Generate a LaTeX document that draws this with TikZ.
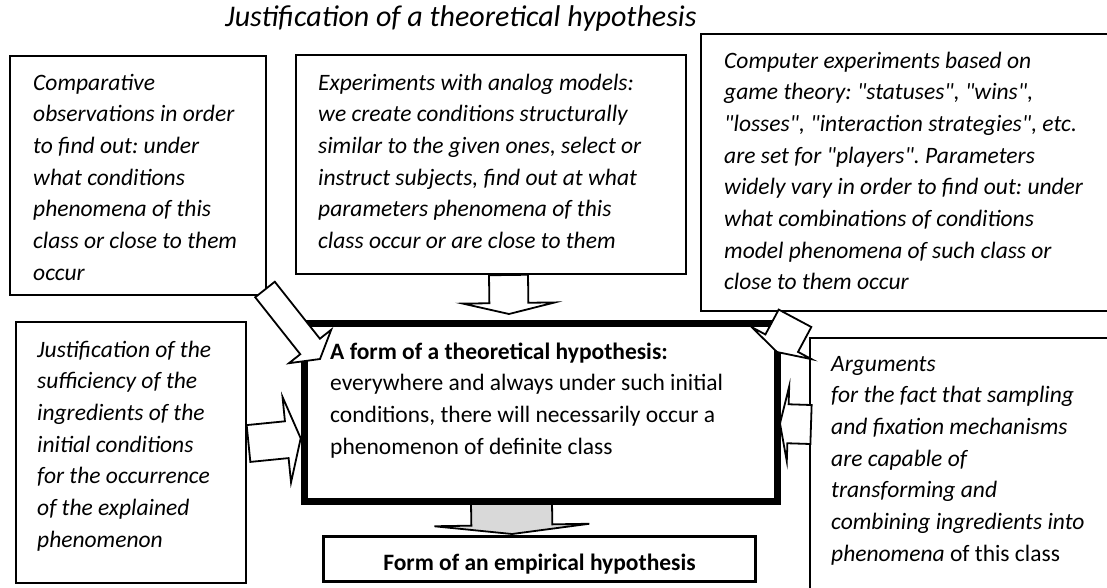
\documentclass[tikz,border=0pt]{standalone}
\usepackage{fontspec}
\setmainfont{Carlito}
\usetikzlibrary{calc}
\definecolor{shaftgray}{HTML}{D9D9D9}
\frenchspacing
\newcommand\sq{\textquotedbl}

% block arrow: [style]{tail}{tip}{half shaft width}{half head width}{head length}
\newcommand\blockarrow[6][]{%
  \draw[arrowbody,#1]
    ($(#2)!#4!90:(#3)$)
    -- ($($(#3)!#6!(#2)$)!#4!90:(#3)$)
    -- ($($(#3)!#6!(#2)$)!#5!90:(#3)$)
    -- (#3)
    -- ($($(#3)!#6!(#2)$)!#5!-90:(#3)$)
    -- ($($(#3)!#6!(#2)$)!#4!-90:(#3)$)
    -- ($(#2)!#4!-90:(#3)$)
    -- cycle;}

% multi-line texts are placed by the baseline of their last line
\tikzset{
  panel/.style={draw=black, line width=2pt, fill=white, inner sep=0pt, outer sep=0pt, anchor=north west},
  mainbox/.style={panel, line width=7pt},
  resultbox/.style={panel, line width=2.8pt},
  bodytext/.style={inner sep=0pt, anchor=base west, align=left,
    font=\fontsize{23.5}{31.7}\selectfont\itshape},
  uprighttext/.style={bodytext, font=\fontsize{23.5}{31.7}\selectfont},
  titletext/.style={inner sep=0pt, anchor=base west, font=\fontsize{30}{36}\selectfont\itshape},
  arrowbody/.style={draw=black, line width=1.8pt, fill=white, line join=miter},
}

\begin{document}
\begin{tikzpicture}[x=1pt, y=-1pt]
\clip (0,0) rectangle (1107,587);
\fill[white] (0,0) rectangle (1107,587);

% outer boxes
\node[panel, minimum width=256pt, minimum height=239pt] (comp) at (10,56) {};
\node[panel, minimum width=390pt, minimum height=219pt] (analog) at (296,55) {};
\node[panel, minimum width=440pt, minimum height=277pt] (game) at (701,34) {};
\node[panel, minimum width=230pt, minimum height=261pt] (suff) at (16,322) {};
\node[panel, minimum width=330pt, minimum height=280pt] (args) at (810,338) {};

% arrow end points
\coordinate (analogT) at (508.5,275);
\coordinate (analogH) at (509,314);
\coordinate (compT) at (265,289.5);
\coordinate (compH) at (320,359);
\coordinate (suffT) at (248.5,443.5);
\coordinate (suffH) at (300.7,438.3);
\coordinate (argsT) at (811,424.5);
\coordinate (argsH) at (780,423.5);
\coordinate (gameT) at (795,318.3);
\coordinate (gameH) at (777,352);
\coordinate (theoT) at (511.5,503);
\coordinate (theoH) at (512,534);

% arrows lying under the central box
\blockarrow{argsT}{argsH}{19.5pt}{37.5pt}{8pt}
\blockarrow[fill=shaftgray]{theoT}{theoH}{40.5pt}{77.5pt}{9pt}
\blockarrow{analogT}{analogH}{19.5pt}{46pt}{11pt}

% central and resulting boxes
\node[mainbox, minimum width=473pt, minimum height=178pt] (theo) at (304.5,323.5) {};
\node[resultbox, minimum width=432.2pt, minimum height=45.2pt] (emp) at (323.4,536.4) {};

% arrows lying over the central box
\blockarrow{compT}{compH}{12.5pt}{27pt}{16pt}
\blockarrow{suffT}{suffH}{18.5pt}{43pt}{14pt}
\blockarrow{gameT}{gameH}{18.5pt}{34pt}{10pt}

% texts
\node[titletext] (title) at (225,26) {Justification of a theoretical hypothesis};

\node[bodytext] (compText) at ($(comp.north west)+(23,224.2)$) {Comparative\\
observations in order\\
to find out: under\\
what conditions\\
phenomena of this\\
class or close to them\\
occur};

\node[bodytext] (analogText) at ($(analog.north west)+(22,193.5)$) {Experiments with analog models:\\
we create conditions structurally\\
similar to the given ones, select or\\
instruct subjects, find out at what\\
parameters phenomena of this\\
class occur or are close to them};

\node[bodytext] (gameText) at ($(game.north west)+(23,255.9)$) {Computer experiments based on\\
game theory: \sq statuses\sq, \sq wins\sq,\\
\sq losses\sq, \sq interaction strategies\sq, etc.\\
are set for \sq players\sq. Parameters\\
widely vary in order to find out: under\\
what combinations of conditions\\
model phenomena of such class or\\
close to them occur};

\node[bodytext] (suffText) at ($(suff.north west)+(21,225.2)$) {Justification of the\\
sufficiency of the\\
ingredients of the\\
initial conditions\\
for the occurrence\\
of the explained\\
phenomenon};

\node[uprighttext] (theoText) at ($(theo.north west)+(25.5,130.6)$) {\textbf{A form of a theoretical hypothesis:}\\
everywhere and always under such initial\\
conditions, there will necessarily occur a\\
phenomenon of definite class};

\node[bodytext] (argsText) at ($(args.north west)+(21,223.2)$) {Arguments\\
for the fact that sampling\\
and fixation mechanisms\\
are capable of\\
transforming and\\
combining ingredients into\\
phenomena {\upshape of this class}};

\node[uprighttext, anchor=base] (empText) at ($(emp.center)+(0,11)$) {\textbf{Form of an empirical hypothesis}};
\end{tikzpicture}
\end{document}
